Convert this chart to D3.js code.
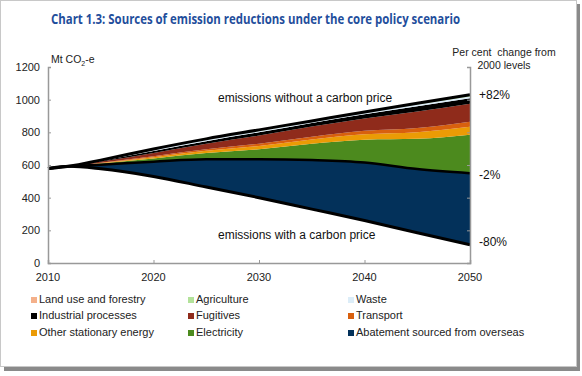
<!DOCTYPE html>
<html>
<head>
<meta charset="utf-8">
<script src="https://cdn.jsdelivr.net/npm/d3@7"></script>
<style>
    body { margin: 0; background: #fff; }
    text { font-family: "Liberation Sans", Arial, sans-serif; white-space: pre; }
</style>
</head>
<body>
<div id="chart"></div>
<script>
// chart data (Mt CO2-e)
let years        = [2010, 2012, 2015, 2020, 2025, 2030, 2035, 2040, 2045, 2050];
let withPrice    = [578, 592, 577, 530, 465, 400, 330, 260, 185, 112];
let withoutPrice = [578, 592, 630, 698, 760, 815, 870, 925, 978, 1030];

let overseas     = [0, 0, 25, 90, 170, 235, 300, 355, 390, 438];
let electricity  = [0, 0, 7, 20, 38, 62, 100, 140, 185, 235];
let otherStat    = [0, 0, 3, 8, 14, 20, 26, 33, 41, 49];
let transport    = [0, 0, 2, 6, 9, 13, 17, 21, 26, 31];
let fugitives    = [0, 0, 7, 20, 34, 50, 62, 76, 100, 110];
let industrial   = [0, 0, 4, 12, 16, 20, 22, 25, 32, 33];
let waste        = [0, 0, 3, 7, 8, 8, 8, 9, 11, 12];
let agriculture  = [0, 0, 1, 2, 3, 3, 2, 3, 4, 5];
let landUse      = [0, 0, 1, 3, 3, 4, 3, 3, 4, 5];

let yTicks = [0, 200, 400, 600, 800, 1000, 1200];
let xTicks = [2010, 2020, 2030, 2040, 2050];
let endLabels = [{text: "+82%", v: 1030}, {text: "-2%", v: 540}, {text: "-80%", v: 130}];

let layers = [
    {name: "Abatement sourced from overseas", values: overseas, color: "#03315a"},
    {name: "Electricity", values: electricity, color: "#4c8a1e"},
    {name: "Other stationary energy", values: otherStat, color: "#eb9b05"},
    {name: "Transport", values: transport, color: "#d8600e"},
    {name: "Fugitives", values: fugitives, color: "#8f2b1b"},
    {name: "Industrial processes", values: industrial, color: "#000000"},
    {name: "Waste", values: waste, color: "#dcedf8"},
    {name: "Agriculture", values: agriculture, color: "#b3e29a"},
    {name: "Land use and forestry", values: landUse, color: "#f4b08a"}
];

// legend order as in the picture (3 columns)
let legendOrder = ["Land use and forestry", "Agriculture", "Waste",
    "Industrial processes", "Fugitives", "Transport",
    "Other stationary energy", "Electricity", "Abatement sourced from overseas"];

let W = 582, H = 376;
let svg = d3.select("#chart").append("svg")
    .attr("width", W)
    .attr("height", H);

// frame with shadow
svg.append("rect").attr("x", 4).attr("y", 4).attr("width", W - 6).attr("height", H - 9)
    .attr("fill", "#8a8a8a");
svg.append("rect").attr("x", 0.5).attr("y", 0.5).attr("width", W - 6).attr("height", H - 10)
    .attr("fill", "#fff").attr("stroke", "#c8c8c8");

// title
svg.append("text")
    .attr("x", 51).attr("y", 24)
    .attr("textLength", 409).attr("lengthAdjust", "spacingAndGlyphs")
    .style("font-family", "'Open Sans', sans-serif")
    .style("font-weight", "bold")
    .style("font-size", "13.5px")
    .attr("fill", "#1f4e9c")
    .text("Chart 1.3: Sources of emission reductions under the core policy scenario");

let x = d3.scaleLinear().domain([2010, 2050]).range([48, 470]);
let y = d3.scaleLinear().domain([0, 1200]).range([263, 67]);

// stacked data
let table = years.map((yr, i) => {
    let row = {year: yr, base: withPrice[i]};
    layers.forEach(l => row[l.name] = l.values[i]);
    return row;
});
let stack = d3.stack().keys(layers.map(l => l.name));
let series = stack(table);

let area = d3.area()
    .x(d => x(d.data.year))
    .y0(d => y(d.data.base + d[0]))
    .y1(d => y(d.data.base + d[1]))
    .curve(d3.curveMonotoneX);

svg.append("g").selectAll("path")
    .data(series)
    .enter().append("path")
    .attr("d", area)
    .attr("fill", (d, i) => layers[i].color);

let line = d3.line()
    .x((d, i) => x(years[i]))
    .y(d => y(d))
    .curve(d3.curveMonotoneX);

let domestic = withPrice.map((v, i) => v + overseas[i]);

svg.append("path").attr("d", line(domestic))
    .attr("fill", "none").attr("stroke", "#000").attr("stroke-width", 2.5);
svg.append("path").attr("d", line(withPrice))
    .attr("fill", "none").attr("stroke", "#000").attr("stroke-width", 3);
svg.append("path").attr("d", line(withoutPrice))
    .attr("fill", "none").attr("stroke", "#000").attr("stroke-width", 3);

// axes
let axisColor = "#999";
let leftAxis = svg.append("g")
    .attr("transform", "translate(48,0)")
    .call(d3.axisRight(y).tickValues(yTicks).tickSize(3).tickFormat(""));
let rightAxis = svg.append("g")
    .attr("transform", "translate(470,0)")
    .call(d3.axisLeft(y).tickValues(yTicks).tickSize(3).tickFormat(""));
let bottomAxis = svg.append("g")
    .attr("transform", "translate(0,263)")
    .call(d3.axisTop(x).tickValues(xTicks).tickSize(3).tickFormat(""));
[leftAxis, rightAxis, bottomAxis].forEach(a => {
    a.selectAll("path").attr("stroke", axisColor).attr("stroke-width", 1.5);
    a.selectAll("line").attr("stroke", axisColor);
});

svg.append("g").selectAll("text")
    .data(yTicks)
    .enter().append("text")
    .attr("x", 40).attr("y", d => y(d) + 4)
    .attr("text-anchor", "end")
    .style("font-size", "11px")
    .attr("fill", "#222")
    .text(d => d);

svg.append("g").selectAll("text")
    .data(xTicks)
    .enter().append("text")
    .attr("x", d => x(d)).attr("y", 281)
    .attr("text-anchor", "middle")
    .style("font-size", "11px")
    .attr("fill", "#222")
    .text(d => d);

// axis titles
let yTitle = svg.append("text")
    .attr("x", 51).attr("y", 63)
    .style("font-size", "10.5px")
    .attr("fill", "#222");
yTitle.append("tspan").text("Mt CO");
yTitle.append("tspan").attr("dy", 3).style("font-size", "7px").text("2");
yTitle.append("tspan").attr("dy", -3).text("-e");

svg.append("text").attr("x", 504).attr("y", 56)
    .attr("text-anchor", "middle").style("font-size", "10.5px").attr("fill", "#222")
    .text("Per cent  change from");
svg.append("text").attr("x", 504).attr("y", 69)
    .attr("text-anchor", "middle").style("font-size", "10.5px").attr("fill", "#222")
    .text("2000 levels");

// right-hand percentage labels
svg.append("g").selectAll("text")
    .data(endLabels)
    .enter().append("text")
    .attr("x", 479).attr("y", d => y(d.v) + 4)
    .style("font-size", "12px")
    .attr("fill", "#111")
    .text(d => d.text);

// line annotations
svg.append("text").attr("x", 218).attr("y", 102)
    .style("font-size", "12px").attr("fill", "#111")
    .text("emissions without a carbon price");
svg.append("text").attr("x", 218).attr("y", 239)
    .style("font-size", "12px").attr("fill", "#111")
    .text("emissions with a carbon price");

// legend
let legendX = [31, 188, 348];
let legendY = [303, 319, 336];
let legend = svg.append("g").selectAll("g")
    .data(legendOrder)
    .enter().append("g")
    .attr("transform", (d, i) => `translate(${legendX[i % 3]}, ${legendY[Math.floor(i / 3)]})`);
legend.append("rect")
    .attr("x", 0).attr("y", -6)
    .attr("width", 6).attr("height", 6)
    .attr("fill", d => layers.find(l => l.name === d).color);
legend.append("text")
    .attr("x", 8).attr("y", 0)
    .style("font-size", "11px")
    .attr("fill", "#222")
    .text(d => d);
</script>
</body>
</html>
